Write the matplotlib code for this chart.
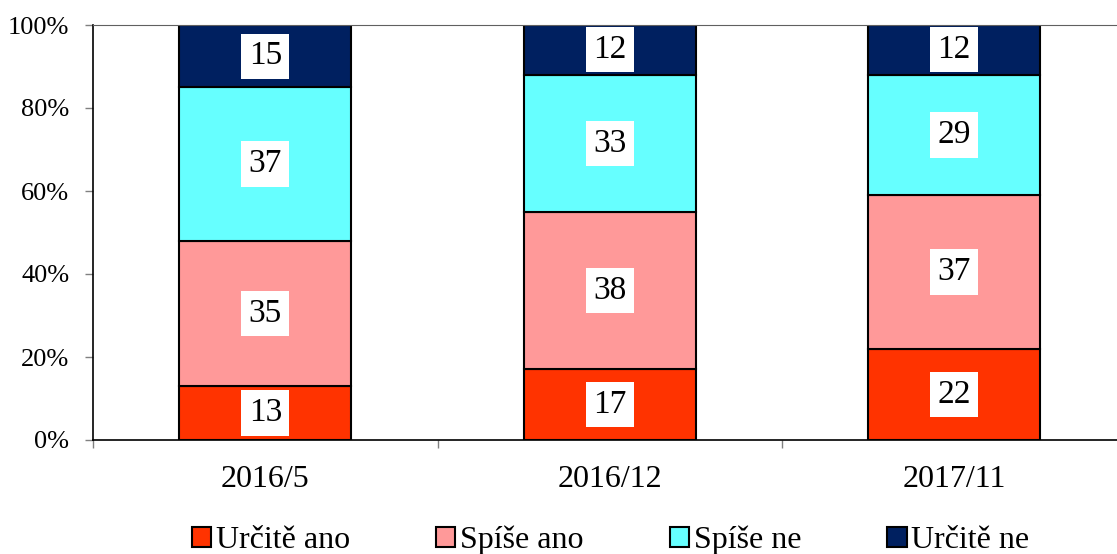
import matplotlib
matplotlib.use("Agg")
import matplotlib.pyplot as plt
from matplotlib.patches import Patch
from matplotlib.ticker import FixedLocator, PercentFormatter

categories = ["2016/5", "2016/12", "2017/11"]
series_names = ["Určitě ano", "Spíše ano", "Spíše ne", "Určitě ne"]
urcite_ano = [13, 17, 22]
spise_ano = [35, 38, 37]
spise_ne = [37, 33, 29]
urcite_ne = [15, 12, 12]
colors = ["#FF3300", "#FF9999", "#66FFFF", "#002060"]

plt.rcParams['font.family'] = ['Liberation Serif', 'DejaVu Serif']

fig = plt.figure(figsize=(11.17, 5.54), dpi=100)
ax = fig.add_axes([93/1117, 114/554, 1033.5/1117, 415/554])

series = [urcite_ano, spise_ano, spise_ne, urcite_ne]
x = list(range(len(categories)))
bottom = [0] * len(categories)
for vals, col, name in zip(series, colors, series_names):
    ax.bar(x, vals, width=0.5, bottom=bottom, color=col,
           edgecolor="black", linewidth=1.5, label=name, zorder=2)
    for xi, v, b in zip(x, vals, bottom):
        ax.text(xi, b + v / 2, str(v), ha="center", va="center", fontsize=24,
                bbox=dict(boxstyle="square,pad=0.22", fc="white", ec="none"),
                zorder=3)
    bottom = [b + v for b, v in zip(bottom, vals)]

ax.set_xlim(-0.5, 2.5)
ax.set_ylim(0, 100)
ax.yaxis.set_major_locator(FixedLocator([0, 20, 40, 60, 80, 100]))
ax.yaxis.set_major_formatter(PercentFormatter(decimals=0))
ax.set_xticks(x)
ax.set_xticklabels(categories, fontsize=23)
ax.set_xticks([-0.5, 0.5, 1.5, 2.5], minor=True)
ax.tick_params(axis="x", which="major", length=0, pad=18)
ax.tick_params(axis="x", which="minor", length=6, direction="out", width=1, color="#808080")
ax.tick_params(axis="y", length=6, direction="out", width=1, labelsize=19, pad=11, color="#808080")

ax.spines["right"].set_visible(False)
ax.spines["top"].set_color("#606060")
ax.spines["left"].set_color("black")
ax.spines["bottom"].set_color("black")
ax.spines["left"].set_linewidth(1.2)
ax.spines["bottom"].set_linewidth(1.2)

handles = [Patch(facecolor=c, edgecolor="black", linewidth=1.5) for c in colors]
fig.legend(handles, series_names, loc="center", bbox_to_anchor=(0.5466, 1 - 540.5/554),
           ncol=4, frameon=False, fontsize=23, handlelength=0.6, handleheight=0.6,
           handletextpad=0.15, columnspacing=2.7, borderaxespad=0, borderpad=0)

fig.savefig("out.png", dpi=100)
